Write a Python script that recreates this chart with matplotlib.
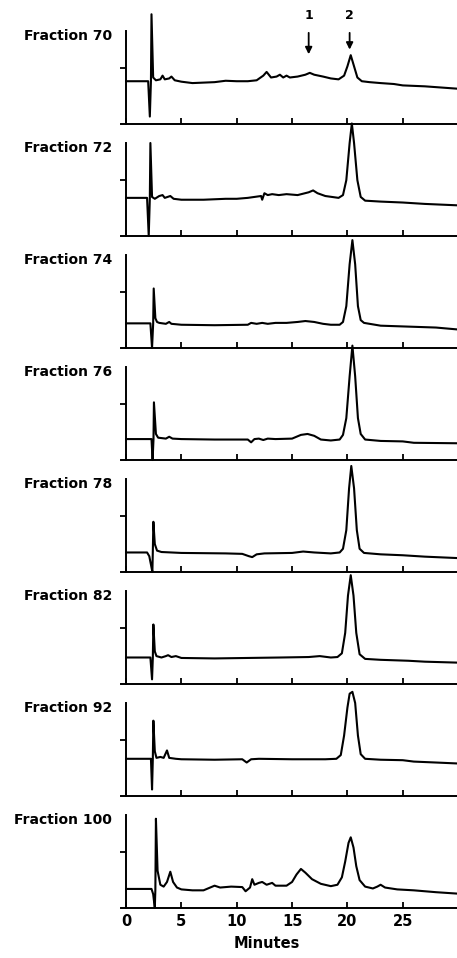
import matplotlib.pyplot as plt

plt.rcParams['font.family'] = ['DejaVu Sans']

fractions = [70, 72, 74, 76, 78, 82, 92, 100]

# detector trace per fraction: time (min), signal (0-100 = left axis height)
t70 = [0, 2.0, 2.15, 2.25, 2.3, 2.45, 2.7, 3.1, 3.3, 3.5, 3.9, 4.1, 4.4, 5, 6, 8, 9, 10, 11, 11.8,
       12.4, 12.7, 13.1, 13.6, 13.9, 14.2, 14.5, 14.8, 15.5, 16.2, 16.6, 17, 17.8, 18.5, 19.2, 19.7,
       20.0, 20.3, 20.6, 20.9, 21.3, 22, 23, 24.2, 25, 27, 29.9]
y70 = [46, 46, 8, 46, 118, 50, 47, 48, 52, 48, 49, 51, 47, 45.5, 44, 45, 46.5, 46, 46, 47,
       52, 56, 50, 51, 53, 50, 52, 50, 51, 53, 55, 53, 51, 49, 48, 52,
       62, 74, 62, 50, 46, 45, 44, 43, 41.5, 40.5, 38]

t72 = [0, 1.9, 2.05, 2.15, 2.2, 2.35, 2.6, 3.0, 3.3, 3.5, 4.0, 4.3, 5, 7, 9, 10, 11, 12.2, 12.3,
       12.5, 12.8, 13.2, 13.8, 14.5, 15.5, 16.5, 16.9, 17.3, 18, 19.2, 19.6, 19.9, 20.2, 20.4,
       20.6, 20.9, 21.2, 21.6, 23, 25, 27, 29.9]
y72 = [41, 41, 0, 41, 100, 42, 40, 43, 44, 41, 43, 40, 39, 39, 40, 40, 41, 43, 39,
       46, 44, 45, 44, 45, 44, 47, 49, 46, 43, 41, 44, 60, 100, 121,
       100, 60, 42, 38, 37, 36, 34.5, 33]

t74 = [0, 2.2, 2.35, 2.45, 2.5, 2.65, 2.8, 3, 3.6, 3.9, 4.1, 5, 8, 11, 11.3, 11.8, 12.3, 12.8,
       13.5, 14.5, 15.5, 16.2, 17, 17.8, 18.5, 19.3, 19.6, 19.9, 20.2, 20.45, 20.7, 20.95, 21.2,
       21.5, 23, 25.5, 28, 29.9]
y74 = [26.5, 26.5, 0, 26, 64, 32, 28, 27, 26, 28, 26, 25, 24.5, 25, 27, 26, 27, 26,
       27, 27, 28, 29, 28, 26, 25, 25, 28, 45, 90, 116, 90, 45, 30,
       27, 24, 23, 22, 20]

t76 = [0, 2.3, 2.4, 2.48, 2.52, 2.7, 2.9, 3.6, 3.9, 4.2, 5, 8, 11, 11.3, 11.6, 12, 12.4, 12.8,
       13.5, 15, 15.8, 16.4, 17, 17.6, 18.5, 19.3, 19.6, 19.9, 20.2, 20.45, 20.7, 20.95, 21.2,
       21.6, 23, 25, 26, 29.9]
y76 = [22.5, 22.5, 0, 22, 62, 28, 24, 23, 25, 23, 22.5, 22, 22, 19, 22.5, 23, 21.5, 23,
       22.5, 23, 27, 28, 26, 22, 21, 22, 27, 45, 90, 123, 90, 45, 28,
       22, 20.5, 20, 18.5, 18]

t78 = [0, 1.9, 2.1, 2.25, 2.38, 2.42, 2.47, 2.6, 2.8, 3.2, 5, 9, 10.5, 11.1, 11.4, 11.8, 12.5,
       15, 16, 17, 18.5, 19.3, 19.6, 19.9, 20.15, 20.35, 20.6, 20.85, 21.1, 21.5, 23, 25, 27, 29.9]
y78 = [21, 21, 17, 8, 0, 22, 54, 30, 23, 21.5, 20.5, 20, 19.5, 17, 16, 19, 20,
       20.5, 22, 21, 20, 21, 25, 45, 90, 114, 90, 45, 25, 20.5, 19, 18, 16.5, 15]

t82 = [0, 2.2, 2.35, 2.42, 2.47, 2.6, 2.75, 3.2, 3.6, 3.8, 4.1, 4.5, 5, 8, 11, 14, 16.5, 17.5,
       18.5, 19.1, 19.5, 19.8, 20.05, 20.3, 20.55, 20.8, 21.1, 21.6, 23, 25.5, 27, 29.9]
y82 = [28.5, 28.5, 5, 28, 64, 35, 30, 28.5, 30, 31, 29, 30, 28, 27.5, 28, 28.5, 29, 30,
       28.5, 29, 33, 55, 95, 117, 95, 55, 32, 27, 26, 25, 24, 23]

t92 = [0, 2.25, 2.35, 2.42, 2.47, 2.6, 2.75, 3.1, 3.4, 3.7, 3.9, 4.5, 5, 8, 10.5, 10.9, 11.3,
       12, 15, 18, 19.0, 19.4, 19.7, 20.0, 20.2, 20.45, 20.7, 20.95, 21.2, 21.6, 23, 25, 26, 28,
       29.9]
y92 = [40, 40, 7, 40, 81, 48, 41, 42, 41, 49, 41, 40, 39.5, 39, 39.5, 36, 39.5,
       40, 39.5, 39.5, 40, 44, 65, 95, 110, 112, 100, 65, 45, 40, 39, 38.5, 37, 36,
       35]

t100 = [0, 2.3, 2.45, 2.6, 2.65, 2.7, 2.85, 3.1, 3.4, 3.7, 4.0, 4.25, 4.6, 5, 6, 7, 7.6, 8.0,
        8.5, 9.5, 10.5, 10.8, 11.2, 11.4, 11.6, 12.0, 12.3, 12.7, 13.2, 13.5, 14.5, 15.0, 15.4,
        15.8, 16.2, 16.8, 17.6, 18.5, 19.1, 19.5, 19.8, 20.1, 20.3, 20.55, 20.8, 21.1, 21.6,
        22.3, 22.7, 23.0, 23.4, 24.5, 26, 28, 29.9]
y100 = [20.5, 20.5, 15, 0, 20, 96, 40, 25, 23, 28, 39, 28, 22, 20, 19, 19, 22, 24,
        22, 23, 22.5, 18, 22, 31, 25, 27, 28, 25, 27, 24, 24, 28, 36,
        42, 38, 31, 26, 23.5, 25, 33, 50, 70, 76, 65, 45, 30, 23,
        21, 23, 25, 22, 20, 19, 17, 15.5]

traces = [(t70, y70), (t72, y72), (t74, y74), (t76, y76),
          (t78, y78), (t82, y82), (t92, y92), (t100, y100)]

peak_marks = ['1', '2']
peak_times = [16.5, 20.2]

W, H = 457, 958
fig = plt.figure(figsize=(W / 100, H / 100), dpi=100)

x_left, x_right = 120.5, 457
base0, step, height = 124, 112, 93

axes = []
for i, (frac, (t, y)) in enumerate(zip(fractions, traces)):
    base = base0 + i * step
    ax = fig.add_axes([x_left / W, 1 - base / H, (x_right - x_left) / W, height / H])
    ax.patch.set_visible(False)
    ax.plot(t, y, color='black', lw=1.5, clip_on=False, solid_joinstyle='round')
    ax.set_xlim(-0.5, 29.9)
    ax.set_ylim(0, 100)
    ax.spines['top'].set_visible(False)
    ax.spines['right'].set_visible(False)
    ax.spines['left'].set_position(('data', 0))
    ax.spines['left'].set_linewidth(1.4)
    ax.spines['bottom'].set_linewidth(1.4)
    ax.set_xticks([0, 5, 10, 15, 20, 25])
    ax.set_yticks([60])
    ax.tick_params(axis='x', direction='in', length=4, width=1.3, labelsize=10.5, pad=4,
                   labelbottom=(i == len(fractions) - 1))
    ax.tick_params(axis='y', direction='out', length=4, width=1.3, labelleft=False)
    fig.text(112 / W, 1 - (base - 88) / H, 'Fraction %d' % frac,
             ha='right', va='center', fontsize=10, fontweight='bold')
    axes.append(ax)

for lab in axes[-1].get_xticklabels():
    lab.set_fontweight('bold')

# peak arrows on the first chromatogram
ax0 = axes[0]
arrow_tips = [72, 77]
for mark, tm, tip in zip(peak_marks, peak_times, arrow_tips):
    ax0.annotate('', xy=(tm, tip), xytext=(tm, 101), annotation_clip=False,
                 arrowprops=dict(arrowstyle='-|>', color='black', lw=1.3, mutation_scale=10))
    ax0.text(tm, 117, mark, ha='center', va='center', fontsize=9, fontweight='bold')

fig.text(267 / W, 1 - 943 / H, 'Minutes', ha='center', va='center', fontsize=10.5,
         fontweight='bold')

fig.savefig('out.png', dpi=100)
